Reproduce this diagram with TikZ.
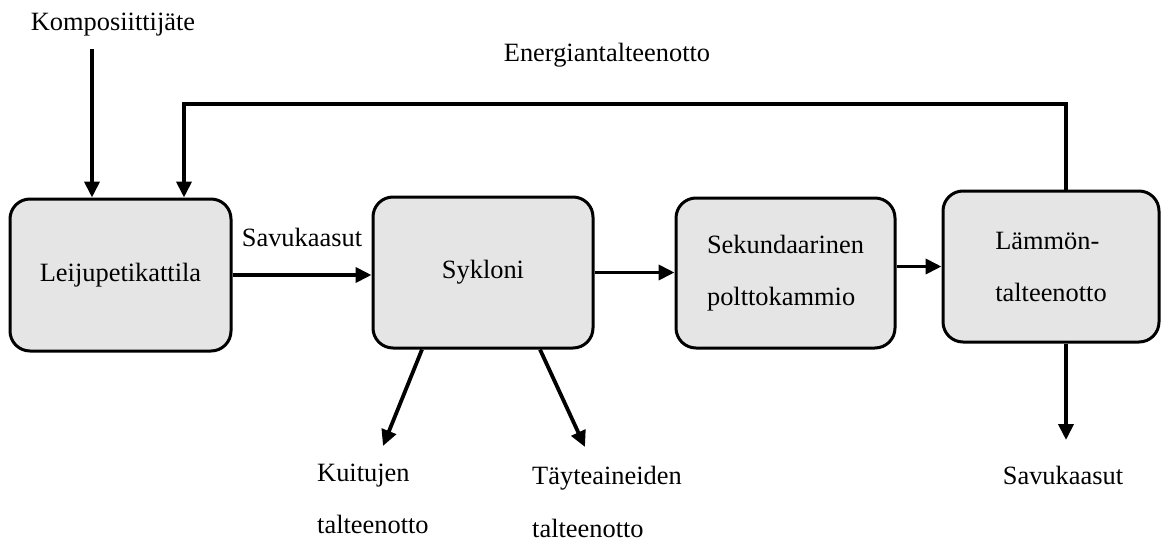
\documentclass[tikz,border=0pt]{standalone}
\usepackage{fontspec}
\setmainfont{Liberation Serif}
\usetikzlibrary{arrows.meta}

\tikzset{
  unitbox/.style={draw=black, line width=3pt, fill=black!10, rounded corners=20pt,
    inner sep=0pt, align=left, font=\fontsize{26.4}{52}\selectfont},
  flow/.style={line width=3.8pt, -{Triangle[length=16pt,width=15pt]}},
  lbl/.style={inner sep=0pt, align=left, font=\fontsize{26.4}{52}\selectfont},
}

\begin{document}
\begin{tikzpicture}[x=1pt,y=-1pt]
  \useasboundingbox (0,0) rectangle (1162,543);

  % process units
  \node[unitbox, minimum width=221pt, minimum height=152pt] (box1) at (120.5,275) {Leijupetikattila};
  \node[unitbox, minimum width=220pt, minimum height=151pt] (box2) at (483,272.5) {Sykloni};
  \node[unitbox, minimum width=219pt, minimum height=150pt] (box3) at (785.5,273) {Sekundaarinen\\polttokammio};
  \node[unitbox, minimum width=216pt, minimum height=151pt] (box4) at (1051,266.5) {Lämmön-\\talteenotto};

  % free labels
  \node[lbl] (feed) at (113,25) {Komposiittijäte};
  \node[lbl] (energy) at (607,55) {Energiantalteenotto};
  \node[lbl] (gas1) at (302,237) {Savukaasut};
  \node[lbl, anchor=west] (fibre) at (317,499) {Kuitujen\\talteenotto};
  \node[lbl, anchor=west, font=\fontsize{26.4}{53}\selectfont] (filler) at (532,502) {Täyteaineiden\\talteenotto};
  \node[lbl] (gas2) at (1063,475) {Savukaasut};

  % connector end points
  \coordinate (feedin) at (92,49);
  \coordinate (fbL) at (184,104);
  \coordinate (fbR) at (1066,104);
  \coordinate (fibreend) at (383,446);
  \coordinate (fillerend) at (585,447);
  \coordinate (gasend) at (1066,440);

  % feed input
  \draw[flow] (feedin) -- (feedin |- box1.north);

  % energy recovery loop back to the boiler
  \draw[flow, line join=miter] (fbR |- box4.north) -- (fbR) -- (fbL) -- (fbL |- box1.north);

  % main gas path
  \draw[flow] (box1.east) -- (box1.east -| box2.west);
  \draw[flow] (box2.east) -- (box2.east -| box3.west);
  \draw[flow] (box4.west -| box3.east) -- (box4.west);

  % separated solids from the cyclone
  \draw[flow] ([xshift=-61pt]box2.south) -- (fibreend);
  \draw[flow] ([xshift=57pt]box2.south) -- (fillerend);

  % exhaust
  \draw[flow] (fbR |- box4.south) -- (gasend);
\end{tikzpicture}
\end{document}
